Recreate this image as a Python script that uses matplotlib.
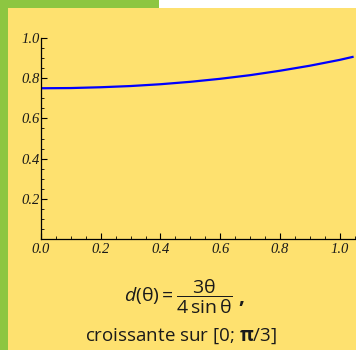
import numpy as np
import matplotlib.pyplot as plt
from matplotlib.patches import Rectangle
from matplotlib.ticker import MultipleLocator

# values
theta = [0.0, 0.1, 0.2, 0.3, 0.4, 0.5, 0.6, 0.7, 0.8, 0.9, 1.0, 1.047]
d_vals = [0.750, 0.751, 0.755, 0.761, 0.770, 0.782, 0.797, 0.815, 0.837, 0.862, 0.891, 0.907]
x_ticks = [0.0, 0.2, 0.4, 0.6, 0.8, 1.0]
y_ticks = [0.2, 0.4, 0.6, 0.8, 1.0]

yellow = "#FEE16F"
green = "#8DC641"

plt.rcParams["mathtext.fontset"] = "custom"
plt.rcParams["mathtext.rm"] = "Open Sans"
plt.rcParams["mathtext.it"] = "Open Sans:italic"
plt.rcParams["mathtext.bf"] = "Open Sans:bold"

W, H = 356, 350
fig = plt.figure(figsize=(W / 100, H / 100), dpi=100, facecolor="white")

# background blocks on a full-figure axes behind everything
bg = fig.add_axes([0, 0, 1, 1], zorder=-5)
bg.set_xlim(0, W)
bg.set_ylim(H, 0)
bg.axis("off")
bg.add_patch(Rectangle((0, 0), 8, H, color=green, lw=0))
bg.add_patch(Rectangle((0, 0), 159, 8, color=green, lw=0))
bg.add_patch(Rectangle((8, 8), W - 8, H - 8, color=yellow, lw=0))

ax = fig.add_axes([41 / W, 111 / H, 315 / W, 201 / H])
ax.set_facecolor("none")
ax.plot(theta, d_vals, color="#0000FF", lw=1.6, solid_capstyle="butt", clip_on=False)
ax.set_xlim(0, 1.055)
ax.set_ylim(0, 1.0)

for s in ["top", "right"]:
    ax.spines[s].set_visible(False)
for s in ["left", "bottom"]:
    ax.spines[s].set_linewidth(0.9)

lab_font = dict(fontfamily="Liberation Serif", fontstyle="italic", fontsize=10.5, color="#1a1a1a")
ax.set_xticks(x_ticks)
ax.set_yticks(y_ticks)
ax.set_xticklabels(["%.1f" % v for v in x_ticks], **lab_font)
ax.set_yticklabels(["%.1f" % v for v in y_ticks], **lab_font)
ax.xaxis.set_minor_locator(MultipleLocator(0.05))
ax.yaxis.set_minor_locator(MultipleLocator(0.05))
ax.tick_params(which="major", direction="in", length=4, width=0.8)
ax.tick_params(which="minor", direction="in", length=2.2, width=0.6)
ax.tick_params(axis="y", which="major", pad=1)
ax.tick_params(axis="x", which="major", pad=3)

fig.text(178 / W, 1 - 297 / H,
         r"$d(\mathrm{\theta}) = \dfrac{3\mathrm{\theta}}{4\,\mathrm{sin}\,\mathrm{\theta}}$",
         ha="center", va="center", fontsize=14, color="#1a1a1a")
fig.text(241 / W, 1 - 298 / H, ",", ha="center", va="center", fontsize=15,
         fontweight="bold", family="Open Sans", color="#1a1a1a")
fig.text(181 / W, 1 - 336 / H, r"croissante sur [0; $\mathbf{\pi}$/3]",
         ha="center", va="center", fontsize=13.5, family="Open Sans", color="#1a1a1a")

fig.savefig("out.png", dpi=100, facecolor=fig.get_facecolor())
